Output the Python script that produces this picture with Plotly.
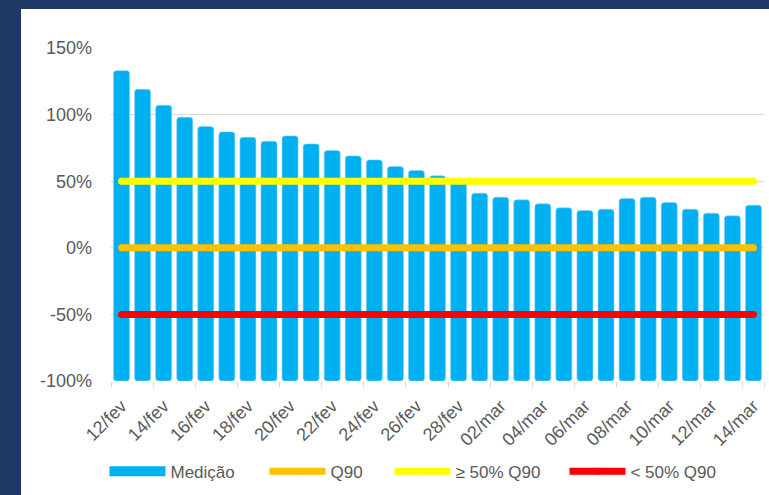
import plotly.graph_objects as go

# ---- data ----
dates = ["12/fev", "13/fev", "14/fev", "15/fev", "16/fev", "17/fev", "18/fev", "19/fev",
         "20/fev", "21/fev", "22/fev", "23/fev", "24/fev", "25/fev", "26/fev", "27/fev",
         "28/fev", "01/mar", "02/mar", "03/mar", "04/mar", "05/mar", "06/mar", "07/mar",
         "08/mar", "09/mar", "10/mar", "11/mar", "12/mar", "13/mar", "14/mar"]
medicao = [133, 119, 107, 98, 91, 87, 83, 80, 84, 78, 73, 69, 66, 61, 58, 54,
           51, 41, 38, 36, 33, 30, 28, 29, 37, 38, 34, 29, 26, 24, 32]
q90_level = 0
q90_50_high = 50
q90_50_low = -50

x_tick_vals = ["12/fev", "14/fev", "16/fev", "18/fev", "20/fev", "22/fev", "24/fev",
               "26/fev", "28/fev", "02/mar", "04/mar", "06/mar", "08/mar", "10/mar",
               "12/mar", "14/mar"]
y_tick_vals = [-100, -50, 0, 50, 100, 150]
y_tick_text = ["-100%", "-50%", "0%", "50%", "100%", "150%"]

series_names = ["Medição", "Q90", "≥ 50% Q90", "< 50% Q90"]

# ---- styling ----
FONT = "Liberation Sans"
GRAY = "#595959"
GRID = "#D9D9D9"
BLUE = "#00B0F0"
ORANGE = "#FFC000"
YELLOW = "#FFFF00"
RED = "#FF0000"
DARK = "#1F3864"

y_min, y_max = y_tick_vals[0], y_tick_vals[-1]

fig = go.Figure()

fig.add_trace(go.Bar(
    x=dates, y=[v - y_min for v in medicao], base=y_min,
    marker=dict(color=BLUE, line=dict(color="#7FD3F5", width=0.6), cornerradius=3),
    showlegend=False, name=series_names[0],
))

# legend proxy for the bar series
fig.add_trace(go.Scatter(
    x=[None], y=[None], mode="lines", name=series_names[0],
    line=dict(color=BLUE, width=16), showlegend=True, legendwidth=89,
))

for name, level, color, lw in [(series_names[1], q90_level, ORANGE, 54),
                               (series_names[2], q90_50_high, YELLOW, 104),
                               (series_names[3], q90_50_low, RED, 110)]:
    fig.add_trace(go.Scatter(
        x=[dates[0], dates[-1]], y=[level, level], mode="lines+markers",
        line=dict(color=color, width=7), marker=dict(color=color, size=7),
        name=name, legendwidth=lw, hoverinfo="skip",
    ))

# white panel
L, T, W, H = 111, 48, 653, 333
fig.add_shape(type="rect", xref="paper", yref="paper",
              x0=(21 - L) / W, x1=(800 - L) / W,
              y0=(T + H - 600) / H, y1=(T + H - 9) / H,
              fillcolor="white", line=dict(width=0), layer="below")

fig.update_layout(
    width=769, height=495, autosize=False,
    margin=dict(l=L, r=769 - L - W, t=T, b=495 - T - H),
    paper_bgcolor=DARK, plot_bgcolor="rgba(0,0,0,0)",
    font=dict(family=FONT, color=GRAY, size=18),
    bargap=0.24,
    showlegend=True,
    legend=dict(orientation="h", x=-0.01, xanchor="left", y=-0.272, yanchor="middle",
                itemwidth=56, font=dict(size=17, color=GRAY, family=FONT),
                bgcolor="rgba(0,0,0,0)", traceorder="normal"),
    xaxis=dict(type="category", range=[-0.5, len(dates) - 0.5],
               tickmode="array", tickvals=x_tick_vals, tickangle=-45,
               tickson="boundaries", ticks="outside", ticklen=5, tickcolor=GRID,
               tickwidth=1.3, showgrid=False, showline=False, zeroline=False,
               ticklabelstandoff=10,
               tickfont=dict(size=18, color=GRAY, family=FONT), fixedrange=True),
    yaxis=dict(range=[y_min, y_max], tickmode="array", tickvals=y_tick_vals,
               ticktext=y_tick_text, showgrid=True, gridcolor=GRID, gridwidth=1.3,
               zeroline=False, showline=False, ticks="", ticklabelstandoff=18,
               tickfont=dict(size=18, color=GRAY, family=FONT), fixedrange=True),
)

fig.write_html("out.html", config={"displayModeBar": False},
               post_script="document.body.style.margin='0';document.body.style.overflow='hidden';")
